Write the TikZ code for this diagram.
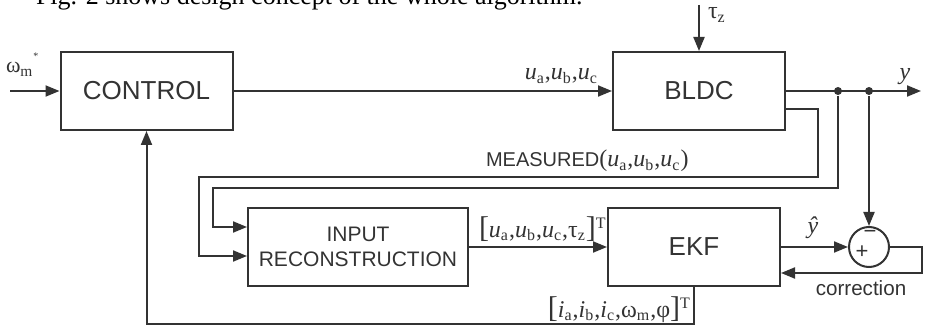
\documentclass[tikz,border=0pt]{standalone}
\usepackage{fontspec}
\setmainfont{Liberation Serif}
\setsansfont{Liberation Sans}
\usetikzlibrary{arrows.meta}

\definecolor{ink}{HTML}{333333}
\newcommand{\sv}[2]{\textit{#1}\textsubscript{#2}}

\begin{document}
\begin{tikzpicture}[x=0.5pt, y=-0.5pt, color=ink, line width=1pt,
  block/.style={draw, rectangle, inner sep=0pt, minimum width=86pt, minimum height=39pt,
    font=\sffamily\fontsize{13}{15}\selectfont},
  sig/.style={-{Triangle[length=7pt,width=5.5pt]}},
  lbl/.style={inner sep=0pt, font=\fontsize{12}{14}\selectfont},
  dot/.style={circle, fill=ink, inner sep=0pt, minimum size=4pt}]

  \useasboundingbox (0,0) rectangle (927,326);
  \clip (0,0) rectangle (927,326);

  % --- Caption line (cut at the top) ---
  \node[anchor=base west, inner sep=0pt, text=black, font=\fontsize{13}{15}\selectfont] (caption) at (35,5)
    {Fig. 2 shows design concept of the whole algorithm.};

  % --- Blocks ---
  \node[block] (control) at (146.5,91) {CONTROL};
  \node[block] (bldc) at (699,91) {BLDC};
  \node[block, minimum width=110pt, align=center,
    font=\sffamily\fontsize{10.5}{12.5}\selectfont] (inrec) at (358,247) {INPUT\\RECONSTRUCTION};
  \node[block] (ekf) at (694,247) {EKF};
  \node[draw, circle, minimum size=20pt, inner sep=0pt] (sum) at (869,247) {};
  \node[inner sep=0pt, font=\sffamily\fontsize{11}{12}\selectfont] (plus) at (862,252) {+};
  \node[inner sep=0pt, font=\sffamily\fontsize{11}{12}\selectfont] (minus) at (870,234) {−};

  % --- Free ends and branch points ---
  \coordinate (win) at (10,91);
  \coordinate (tin) at (699,5);
  \coordinate (yout) at (921,91);
  \node[dot] (d1) at (838,91) {};
  \node[dot] (d2) at (869,91) {};

  % --- Forward path ---
  \draw[sig] (win) -- (control);
  \draw[sig] (tin) -- (bldc);
  \draw[sig] (control) -- (bldc);
  \draw[sig] (bldc) -- (yout);
  \draw[sig] (inrec) -- (ekf);
  \draw[sig] (ekf) -- (sum);
  \draw[sig] (d2) -- (sum);

  % --- Measurements into the reconstruction ---
  \draw[sig] ([yshift=-9pt]bldc.east) -| (818,177) -| (199,256) -- ([yshift=-4.5pt]inrec.west);
  \draw[sig] (d1) |- (213,188) |- ([yshift=10pt]inrec.west);

  % --- Correction and state feedback ---
  \draw[sig] (sum.east) -- (922,247) |- ([yshift=-13pt]ekf.east);
  \draw[sig] (ekf.south) |- (146.5,324) -- (control.south);

  % --- Labels ---
  \node[lbl, anchor=base west, font=\fontsize{11}{13}\selectfont] (wref) at (5,73)
    {ω\textsubscript{m}\raisebox{1.3ex}{\tiny *}};
  \node[lbl, anchor=base east] (uabc) at (599,80) {\sv{u}{a},\sv{u}{b},\sv{u}{c}};
  \node[lbl, anchor=base west] (tauz) at (707,19) {τ\textsubscript{z}};
  \node[lbl, anchor=base] (ylab) at (905,80) {\textit{y}};
  \node[lbl, anchor=base west] (meas) at (485,167)
    {{\sffamily\fontsize{10}{12}\selectfont MEASURED}(\sv{u}{a},\sv{u}{b},\sv{u}{c})};
  \node[lbl, anchor=base west] (uvec) at (478,237)
    {{\fontsize{15}{15}\selectfont[}\sv{u}{a},\sv{u}{b},\sv{u}{c},τ\textsubscript{z}{\fontsize{15}{15}\selectfont]}\textsuperscript{T}};
  \node[lbl] (yhat) at (813,228) {\textit{ŷ}};
  \node[lbl, anchor=base east] (ivec) at (692,317)
    {{\fontsize{15}{15}\selectfont[}\sv{i}{a},\sv{i}{b},\sv{i}{c},ω\textsubscript{m},φ{\fontsize{15}{15}\selectfont]}\textsuperscript{T}};
  \node[inner sep=0pt, font=\sffamily\fontsize{10.3}{12}\selectfont] (corr) at (861,288) {correction};

\end{tikzpicture}
\end{document}
